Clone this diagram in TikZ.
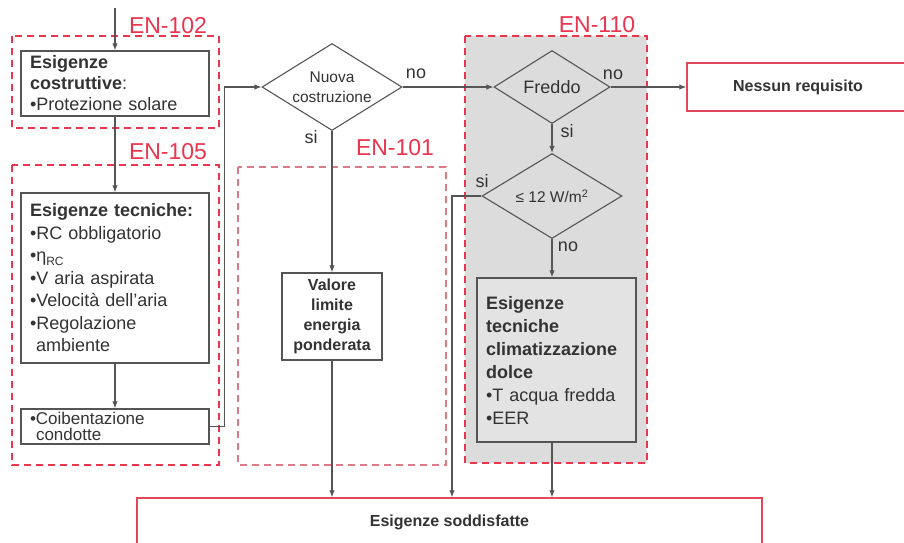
\documentclass[tikz,border=0pt]{standalone}
\usepackage{fontspec}
\setmainfont{Liberation Sans}
\usetikzlibrary{shapes.geometric,arrows.meta}
\definecolor{enred}{HTML}{E8364F}
\definecolor{enlight}{HTML}{DC7A88}
\definecolor{txt}{HTML}{333333}
\definecolor{ln}{HTML}{555555}
\definecolor{boxred}{HTML}{E0485A}
\definecolor{graybg}{HTML}{DCDCDC}
\definecolor{grayboxfill}{HTML}{E3E3E3}
\begin{document}
\begin{tikzpicture}[x=1pt,y=-1pt,
  region/.style={draw=enred, line width=2.2pt, dash pattern=on 7pt off 5pt},
  enlabel/.style={text=enred, font=\fontsize{23}{23}\selectfont, inner sep=0pt},
  box/.style={draw=ln, line width=1.3pt, fill=white, text=txt, align=left, inner xsep=9pt, inner ysep=0pt},
  redbox/.style={draw=boxred, line width=1.5pt, fill=white, text=txt, inner sep=0pt, font=\fontsize{16}{16}\selectfont\bfseries},
  decision/.style={diamond, draw=ln, line width=1.1pt, text=txt, inner sep=0pt, align=center},
  lbl/.style={text=txt, inner sep=0pt, font=\fontsize{18}{18}\selectfont},
  conn/.style={draw=ln, line width=1.1pt},
  arr/.style={conn, -{Latex[length=7pt,width=5.5pt]}}
]
\useasboundingbox (0,0) rectangle (904,542);
\clip (0,0) rectangle (904,542);
\fill[white] (0,0) rectangle (904,542);

% regions
\draw[region] (12,36) rectangle (219,128);
\draw[region] (12,165) rectangle (219,465);
\draw[region, draw=enlight] (238,167) rectangle (446,465);
\fill[graybg] (465,36) rectangle (647,463);
\draw[region] (465,36) rectangle (647,463);

\node[enlabel] (en102) at (168,26) {EN-102};
\node[enlabel] (en105) at (168,152) {EN-105};
\node[enlabel] (en101) at (395,148) {EN-101};
\node[enlabel] (en110) at (597,25) {EN-110};

% boxes
\node[box, text width=170pt, minimum height=65pt, font=\fontsize{18}{21}\selectfont] (cost) at (115,83.5)
  {\textbf{Esigenze}\\\textbf{costruttive}:\\•Protezione solare};
\node[box, text width=170pt, minimum height=170pt, font=\fontsize{18}{22.5}\selectfont] (tec) at (115,278)
  {\textbf{Esigenze tecniche:}\\•RC obbligatorio\\•η{\fontsize{12}{12}\selectfont\raisebox{-4pt}{RC}}\\•V aria aspirata\\•Velocità dell’aria\\•Regolazione\\\hspace*{6pt}ambiente};
\node[box, text width=170pt, minimum height=35pt, font=\fontsize{17}{16}\selectfont] (coib) at (115,426.5)
  {•Coibentazione\\\hspace*{6pt}condotte};
\node[box, text width=82pt, minimum height=87pt, align=center, font=\fontsize{16}{20}\selectfont\bfseries] (valore) at (332,316.5)
  {Valore\\limite\\energia\\ponderata};
\node[box, fill=grayboxfill, text width=141pt, minimum height=164pt, font=\fontsize{18}{23}\selectfont] (clim) at (556.5,360)
  {\textbf{Esigenze}\\\textbf{tecniche}\\\textbf{climatizzazione}\\\textbf{dolce}\\•T acqua fredda\\•EER};

\node[redbox, minimum width=222pt, minimum height=48pt] (nessun) at (798,87) {Nessun requisito};
\node[redbox, minimum width=625pt, minimum height=48pt] (sodd) at (449.5,522) {Esigenze soddisfatte};

% decisions
\node[decision, aspect=1.61, minimum width=140pt, minimum height=87pt, font=\fontsize{15.5}{20}\selectfont] (nuova) at (332,87)
  {Nuova\\costruzione};
\node[decision, minimum width=116pt, minimum height=73pt, aspect=1.59, font=\fontsize{18}{18}\selectfont] (freddo) at (552,87) {Freddo};
\node[decision, minimum width=140pt, minimum height=85pt, aspect=1.65, font=\fontsize{15.5}{15.5}\selectfont] (w12) at (552,196)
  {≤ 12 W/m\textsuperscript{2}};

% labels
\node[lbl] (l1) at (416,74) {no};
\node[lbl] (l2) at (311,137) {si};
\node[lbl] (l3) at (613,75) {no};
\node[lbl] (l4) at (567,131) {si};
\node[lbl] (l5) at (482,181) {si};
\node[lbl] (l6) at (568,247) {no};

% connectors
\coordinate (start) at (115,8);
\coordinate (jx) at (452,196);
\draw[arr] (start) -- (cost.north);
\draw[arr] (cost.south) -- (tec.north);
\draw[arr] (tec.south) -- (coib.north);
\draw[arr] (coib.east) -- ++(15,0) |- (nuova.west);
\draw[arr] (nuova.east) -- (freddo.west);
\draw[arr] (nuova.south) -- (valore.north);
\draw[arr] (valore.south) -- (valore.south |- sodd.north);
\draw[arr] (freddo.east) -- (nessun.west);
\draw[arr] (freddo.south) -- (w12.north);
\draw[arr] (w12.west) -- (jx) -- (jx |- sodd.north);
\draw[arr] (w12.south) -- (w12.south |- clim.north);
\draw[arr] (w12.south |- clim.south) -- (w12.south |- sodd.north);
\end{tikzpicture}
\end{document}
